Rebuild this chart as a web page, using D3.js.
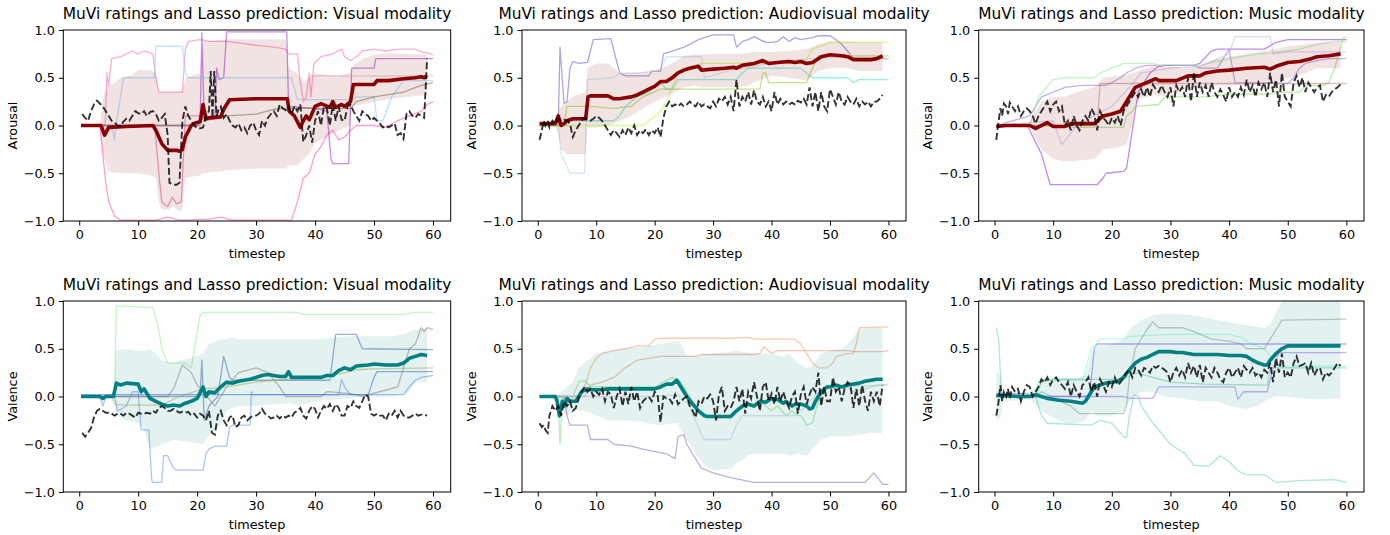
<!DOCTYPE html>
<html>
<head>
<meta charset="utf-8">
<script src="https://cdn.jsdelivr.net/npm/d3@7"></script>
<style>
  html, body { margin: 0; padding: 0; background: #ffffff; }
  svg { display: block; font-family: "DejaVu Sans", sans-serif; }
</style>
</head>
<body>
<svg id="chart" width="1390" height="535"></svg>
<script>
// ---------------- DATA ----------------
const modalities = ["Visual", "Audiovisual", "Music"];
const dimensions = ["Arousal", "Valence"];
const xTicks = [0, 10, 20, 30, 40, 50, 60];
const yTicks = [-1.0, -0.5, 0.0, 0.5, 1.0];
const yTickLabels = ["\u22121.0", "\u22120.5", "0.0", "0.5", "1.0"];
const titlePrefix = "MuVi ratings and Lasso prediction: ";
const xLabel = "timestep";

// ===== Visual / Arousal =====
const visArMean = [[0.3,0.0],[3.7,0.0],[4.3,-0.1],[5,-0.02],[8,-0.01],[12.5,0.0],[13,-0.05],[14,-0.19],[15,-0.26],[16.5,-0.26],[17,-0.27],[17.5,-0.25],[18,-0.12],[19,0.0],[19.8,0.03],[20.5,0.04],[21,0.22],[21.5,0.07],[22,0.08],[24,0.09],[24.5,0.17],[25.5,0.27],[30,0.28],[35.3,0.28],[35.6,0.15],[36.5,0.1],[37.5,-0.02],[38,0.05],[38.5,0.1],[39,0.06],[39.3,0.1],[40,0.2],[41,0.23],[42.5,0.19],[43,0.25],[43.5,0.19],[44.5,0.22],[45,0.2],[46,0.25],[46.5,0.43],[50,0.43],[50.5,0.47],[52.5,0.47],[55,0.49],[57,0.5],[58,0.51],[58.5,0.5],[59,0.52]];
const visArBand = [[0.3,0,0],[3.5,0,0],[4,-0.3,0.3],[5,-0.48,0.42],[6,-0.5,0.45],[7,-0.5,0.5],[9,-0.5,0.53],[10,-0.5,0.58],[12,-0.52,0.58],[13,-0.55,0.55],[13.5,-0.8,0.35],[14,-0.88,0.35],[15,-0.88,0.35],[16,-0.85,0.35],[17,-0.9,0.35],[17.5,-0.88,0.36],[18,-0.55,0.5],[20.5,-0.52,0.55],[21,-0.5,0.88],[25,-0.47,0.9],[30,-0.45,0.9],[35,-0.45,0.9],[35.5,-0.42,0.6],[37,-0.42,0.55],[38,-0.35,0.45],[39,-0.3,0.5],[40,-0.18,0.55],[42,-0.12,0.53],[44,-0.05,0.52],[46,0.0,0.55],[46.5,0.2,0.63],[48,0.22,0.7],[50,0.25,0.74],[53,0.28,0.76],[56,0.3,0.75],[59,0.32,0.74]];
const visArPred = [[0.5,0.12],[1,0.08],[1.5,0.05],[2,0.15],[2.5,0.22],[3,0.26],[3.5,0.23],[4,0.2],[4.5,0.15],[5,0.1],[5.5,0.05],[6,0.03],[6.5,0.0],[7,-0.01],[7.5,0.04],[8,0.07],[8.5,0.05],[9,0.1],[9.5,0.15],[10,0.13],[10.5,0.12],[11,0.15],[11.5,0.1],[12,0.14],[12.5,0.15],[13,0.12],[13.5,0.05],[14,0.08],[14.5,0.12],[15,-0.1],[15.3,-0.6],[16,-0.62],[16.5,-0.62],[17,-0.6],[17.5,0.05],[18,0.2],[18.5,0.1],[19,0.05],[19.5,0.0],[20,-0.03],[20.5,-0.03],[21,-0.02],[21.5,0.1],[22,0.15],[22.3,0.57],[22.6,0.08],[22.9,0.57],[23.3,0.1],[23.7,0.18],[24,0.2],[24.5,0.08],[25,0.12],[25.5,0.05],[26,0.0],[26.5,-0.02],[27,0.02],[27.5,-0.05],[28,-0.02],[28.5,-0.08],[29,0.0],[29.5,0.03],[30,-0.05],[30.5,-0.1],[31,0.05],[31.5,0.0],[32,0.08],[32.5,0.12],[33,0.15],[33.5,0.1],[34,0.22],[34.5,0.18],[35,0.16],[35.5,0.2],[36,0.12],[36.5,0.2],[37,0.15],[37.5,0.22],[38,-0.17],[38.5,-0.1],[39,0.0],[39.5,-0.18],[40,0.05],[40.5,0.15],[41,0.0],[41.5,0.2],[42,0.18],[42.5,0.0],[43,0.22],[43.5,0.05],[44,0.2],[44.5,0.06],[45,0.05],[45.5,0.2],[46,0.22],[46.5,0.15],[47,0.1],[47.5,0.05],[48,0.15],[48.5,0.12],[49,0.1],[49.5,0.05],[50,0.08],[50.5,0.05],[51,0.02],[51.5,-0.02],[52,0.0],[52.5,-0.02],[53,0.0],[53.5,0.02],[54,-0.1],[54.5,-0.08],[55,-0.14],[55.5,0.12],[56,0.15],[56.5,0.1],[57,0.08],[57.5,0.12],[58,0.1],[58.5,0.08],[59,0.7]];
const visArRaters = [
  [[4.4,0.0],[4.7,0.55],[5,0.42],[5.5,0.7],[7,0.72],[9,0.78],[10,0.75],[11,0.78],[12.5,0.75],[13,0.5],[13.5,0.35],[17.5,0.35],[18,0.8],[18.5,0.88],[20.5,0.9],[22,0.88],[25,0.88],[30,0.84],[33,0.82],[35,0.8],[35.5,0.75],[37,0.75],[37.5,0.45],[38,0.25],[38.5,0.3],[39,0.55],[39.3,0.3],[39.8,0.65],[41,0.72],[43,0.75],[44.5,0.8],[45,0.72],[46,0.68],[47,0.72],[48,0.78],[50,0.8],[52,0.78],[54,0.8],[57,0.8],[58,0.77],[59,0.76],[60,0.74]],
  [[0.3,0.0],[3.5,0.0],[4,-0.3],[4.5,-0.6],[5,-0.8],[6,-0.95],[7,-0.99],[13,-0.99],[15,-0.96],[17,-0.99],[22,-0.98],[24,-0.96],[26,-0.99],[36,-0.99],[37,-0.8],[38,-0.55],[39,-0.5],[40,-0.3],[41,-0.22],[42,-0.1],[43,-0.05],[44,-0.15],[45,-0.12],[46,-0.05],[47,0.0],[50,0.0],[52,-0.02],[54,0.05],[56,0.1],[58,0.15],[59,0.22],[60,0.25]],
  [[0.3,0.0],[12.8,0.0],[13.5,-0.5],[14,-0.8],[15,-0.85],[15.8,-0.75],[16.5,-0.82],[17.3,-0.8],[17.7,-0.3],[18,0.1],[20.5,0.1],[21,0.1]],
  [[0.3,0.0],[20.5,0.0],[20.8,0.97],[21.2,0.05],[23,0.07],[23.3,0.6],[23.7,0.48],[24.5,0.5],[25,0.98],[35.2,0.98],[35.5,0.2],[40,0.18],[42,0.15],[42.7,-0.35],[43,-0.4],[45.7,-0.4],[46.2,0.6],[50,0.6],[50.3,0.7],[60,0.7]],
  [[0.3,0.0],[5.5,0.0],[6,-0.15],[6.5,0.1],[7.5,0.5],[12.7,0.5],[13,0.83],[17.5,0.83],[18,0.55],[18.5,0.5],[36,0.5],[37,0.27],[46.5,0.27],[47,0.3],[50,0.3],[50.5,0.05],[51.5,0.05],[53,0.3],[55,0.47],[60,0.47]],
  [[0.3,0.0],[20,0.0],[21,0.08],[25,0.1],[30,0.12],[33,0.17],[35,0.18],[46,0.18],[47,0.25],[50,0.3],[55,0.35],[58,0.42],[60,0.45]],
  [[39,0.52],[60,0.52]]
];
const visArColors = ["#ff69b4", "#ff4fa8", "#e0559b", "#9932cc", "#87cefa", "#6b7a4a", "#f4a6c8"];

// ===== Audiovisual / Arousal =====
const avArMean = [[0.3,0.02],[3,0.02],[3.5,0.1],[4,0.0],[4.5,0.02],[5,0.05],[6,0.07],[8.2,0.07],[8.6,0.3],[9,0.31],[12,0.31],[13,0.28],[14,0.28],[15,0.29],[16,0.3],[17,0.32],[18,0.35],[19,0.38],[20,0.41],[21,0.46],[22,0.46],[23,0.5],[24,0.55],[25,0.58],[26,0.6],[27.5,0.62],[28,0.58],[30,0.59],[32,0.6],[33.5,0.61],[34,0.6],[35,0.63],[36,0.64],[37,0.65],[38.5,0.68],[39.5,0.65],[41,0.66],[43,0.67],[44,0.66],[45,0.67],[46,0.65],[47,0.66],[48.5,0.72],[50,0.74],[52,0.73],[53,0.72],[54,0.69],[57,0.69],[58,0.7],[59,0.73]];
const avArBand = [[0.3,0,0],[3,0,0],[3.5,-0.1,0.15],[4,-0.25,0.2],[5,-0.3,0.25],[6,-0.3,0.3],[8.2,-0.3,0.35],[8.5,-0.02,0.6],[10,-0.02,0.65],[12,0.0,0.65],[13,0.02,0.6],[14,0.05,0.55],[16,0.1,0.55],[18,0.18,0.56],[20,0.25,0.57],[21,0.28,0.6],[23,0.33,0.65],[25,0.4,0.73],[27,0.42,0.75],[28,0.4,0.74],[30,0.4,0.75],[34,0.4,0.75],[36,0.42,0.76],[37,0.45,0.77],[40,0.52,0.77],[43,0.5,0.78],[46,0.47,0.8],[48,0.57,0.85],[50,0.6,0.88],[53,0.6,0.88],[55,0.57,0.87],[59,0.57,0.87]];
const avArPred = [[0.3,-0.15],[0.7,-0.05],[1,0.05],[1.3,0.0],[1.7,0.05],[2,-0.02],[2.5,0.05],[3,0.02],[3.5,0.07],[4,0.05],[4.5,0.06],[5,0.05],[5.5,0.02],[6,-0.12],[6.5,-0.05],[7,0.0],[7.5,0.05],[8,0.08],[8.5,0.06],[9,0.05],[9.5,0.07],[10,0.1],[10.5,0.08],[11,0.05],[11.5,0.0],[12,-0.05],[12.5,-0.1],[13,-0.05],[13.5,-0.08],[14,-0.12],[14.5,-0.05],[15,-0.1],[15.5,-0.02],[16,-0.08],[16.5,0.0],[17,-0.1],[17.5,-0.05],[18,-0.08],[18.5,-0.04],[19,-0.1],[19.5,-0.05],[20,-0.08],[20.5,-0.02],[21,-0.12],[21.5,0.08],[22,0.2],[22.5,0.25],[23,0.2],[23.5,0.22],[24,0.2],[24.5,0.23],[25,0.2],[25.5,0.22],[26,0.25],[26.5,0.22],[27,0.2],[27.5,0.25],[28,0.2],[28.5,0.22],[29,0.2],[29.5,0.18],[30,0.25],[30.5,0.2],[31,0.28],[31.5,0.25],[32,0.3],[32.5,0.22],[33,0.3],[33.5,0.15],[34,0.48],[34.5,0.2],[35,0.3],[35.5,0.25],[36,0.35],[36.5,0.22],[37,0.37],[37.5,0.25],[38,0.22],[38.5,0.3],[39,0.2],[39.5,0.25],[40,0.15],[40.5,0.35],[41,0.22],[41.5,0.28],[42,0.22],[42.5,0.25],[43,0.22],[43.5,0.24],[44,0.22],[44.5,0.26],[45,0.24],[45.5,0.28],[46,0.22],[46.5,0.4],[47,0.2],[47.5,0.35],[48,0.15],[48.5,0.35],[49,0.2],[49.5,0.15],[50,0.38],[50.5,0.3],[51,0.22],[51.5,0.35],[52,0.25],[52.5,0.22],[53,0.3],[53.5,0.25],[54,0.22],[54.5,0.28],[55,0.2],[55.5,0.25],[56,0.22],[56.5,0.25],[57,0.2],[57.5,0.25],[58,0.25],[58.5,0.28],[59,0.32]];
const avArRaters = [
  [[0.3,0.0],[3.5,0.0],[3.8,0.82],[4.5,0.23],[5,0.25],[5.5,0.6],[6,0.67],[7,0.65],[8.5,0.66],[9.5,0.9],[12.5,0.91],[14,0.55],[15,0.52],[19,0.52],[19.5,0.57],[21,0.57],[21.5,0.75],[23,0.78],[25,0.82],[26,0.85],[27.5,0.9],[29,0.93],[30,0.95],[33.5,0.95],[34,0.82],[35,0.88],[36,0.9],[37,0.93],[38,0.9],[39,0.87],[40,0.87],[41,0.88],[42,0.93],[43,0.88],[44,0.92],[45,0.9],[47,0.92],[48,0.94],[50,0.94],[51,0.9],[52,0.85],[53,0.78],[54,0.7],[60,0.7]],
  [[0.3,0.0],[3.5,0.0],[4,-0.3],[5.5,-0.5],[8,-0.5],[8.5,0.48],[13,0.5],[14,0.55],[17,0.55],[20,0.57],[21,0.58],[22,0.72],[28,0.72],[28.5,0.5],[33,0.58],[37,0.62],[42,0.68],[47,0.7],[53,0.72],[60,0.7]],
  [[0.3,0.0],[5,0.0],[5.5,0.05],[13,0.05],[14,0.1],[15,0.2],[16,0.25],[17,0.3],[19,0.35],[20,0.4],[21,0.45],[22,0.38],[23,0.38],[24,0.48],[34,0.48],[35,0.55],[36,0.6],[45,0.6],[46,0.55],[47,0.5],[53,0.5],[54,0.45],[55,0.48],[60,0.48]],
  [[0.3,0.0],[4.5,0.0],[5,0.2],[9,0.2],[13,0.18],[16,0.2],[18,0.3],[21,0.38],[38,0.38],[38.5,0.55],[39,0.55],[39.5,0.45],[46,0.45],[47,0.6],[48,0.73],[60,0.73]],
  [[0.3,0.0],[18,0.0],[19,0.05],[21,0.15],[22,0.25],[23,0.4],[24,0.55],[25,0.6],[27,0.63],[28,0.65],[45,0.65],[46,0.7],[47,0.8],[50,0.87],[60,0.87]]
];
const avArColors = ["#6a5acd", "#b0d8e8", "#40e0d0", "#9acd32", "#adff2f"];

// ===== Music / Arousal =====
const muArMean = [[0.3,-0.01],[2,0.0],[6,0.0],[7,-0.03],[9,0.03],[10,-0.01],[12,-0.01],[13,0.02],[17,0.02],[18.5,0.1],[20,0.12],[21.5,0.15],[22.5,0.25],[24,0.4],[26,0.45],[27.5,0.49],[28,0.47],[31,0.47],[33,0.52],[35,0.52],[36,0.55],[38,0.57],[40,0.58],[43,0.6],[46,0.61],[47,0.59],[48,0.62],[50,0.66],[52,0.67],[54,0.7],[55,0.72],[57,0.73],[59,0.75]];
const muArBand = [[0.3,0,0],[5.5,0,0],[6,-0.02,0.05],[8,-0.25,0.25],[10,-0.35,0.3],[12,-0.38,0.3],[14,-0.37,0.35],[17,-0.35,0.4],[18.5,-0.25,0.5],[21,-0.23,0.52],[22.5,-0.2,0.53],[23.5,0.0,0.55],[24,0.2,0.56],[25,0.28,0.58],[27,0.32,0.62],[30,0.3,0.63],[32,0.38,0.6],[35,0.4,0.62],[37,0.42,0.68],[40,0.42,0.72],[43,0.42,0.75],[46,0.43,0.78],[48,0.45,0.8],[50,0.5,0.83],[53,0.55,0.85],[55,0.6,0.87],[59,0.6,0.88]];
const muArPred = [[0.3,-0.15],[0.6,0.0],[1,0.18],[1.3,0.1],[1.6,0.23],[2,0.2],[2.3,0.12],[2.6,0.24],[3,0.2],[3.5,0.15],[4,0.2],[4.5,0.1],[5,0.15],[5.5,0.18],[6,0.15],[6.5,0.1],[7,0.02],[7.5,0.1],[8,0.15],[8.5,0.2],[9,0.25],[9.5,0.15],[10,0.22],[10.5,0.25],[11,0.15],[11.5,0.2],[12,0.0],[12.5,0.05],[13,-0.05],[13.5,0.1],[14,0.0],[14.5,-0.05],[15,0.05],[15.5,0.1],[16,0.05],[16.5,0.18],[17,0.12],[17.5,-0.05],[18,0.15],[18.5,0.08],[19,0.05],[19.5,0.0],[20,0.08],[20.5,0.03],[21,0.1],[21.5,0.0],[22,0.15],[22.5,0.2],[23,0.25],[23.5,0.3],[24,0.35],[24.5,0.3],[25,0.38],[25.5,0.3],[26,0.4],[26.5,0.3],[27,0.43],[27.5,0.38],[28,0.35],[28.5,0.42],[29,0.35],[29.5,0.3],[30,0.4],[30.5,0.2],[31,0.42],[31.5,0.35],[32,0.4],[32.5,0.3],[33,0.5],[33.5,0.25],[34,0.55],[34.5,0.3],[35,0.45],[35.5,0.35],[36,0.42],[36.5,0.3],[37,0.45],[37.5,0.35],[38,0.3],[38.5,0.38],[39,0.32],[39.5,0.25],[40,0.4],[40.5,0.3],[41,0.35],[41.5,0.3],[42,0.4],[42.5,0.32],[43,0.48],[43.5,0.35],[44,0.42],[44.5,0.3],[45,0.45],[45.5,0.38],[46,0.45],[46.5,0.3],[47,0.55],[47.5,0.35],[48,0.48],[48.5,0.2],[49,0.55],[49.5,0.3],[50,0.25],[50.5,0.2],[51,0.45],[51.5,0.52],[52,0.4],[52.5,0.5],[53,0.35],[53.5,0.45],[54,0.4],[54.5,0.35],[55,0.4],[55.5,0.42],[56,0.25],[56.5,0.32],[57,0.3],[57.5,0.35],[58,0.38],[58.5,0.4],[59,0.43]];
const muArRaters = [
  [[0.3,0.0],[5.5,0.0],[6,-0.05],[8,-0.3],[9.5,-0.62],[17.5,-0.62],[18.5,-0.55],[19,-0.5],[22,-0.48],[22.5,-0.45],[24.5,0.35],[25.5,0.45],[26.5,0.55],[28,0.62],[29,0.63],[34,0.63],[35,0.65],[37,0.78],[38,0.8],[46,0.8],[48,0.87],[50,0.9],[60,0.9]],
  [[0.3,0.0],[6,0.1],[8,0.3],[10,0.35],[12,0.4],[15,0.42],[19,0.42],[20,0.45],[21.5,0.5],[22.5,0.55],[24,0.6],[26,0.63],[34,0.63],[35,0.6],[38,0.6],[40,0.8],[41,0.45],[50,0.44],[51,0.5],[52,0.6],[53,0.65],[55,0.68],[57,0.7],[60,0.7]],
  [[0.3,0.0],[6,0.0],[7.5,0.3],[10,0.48],[12,0.5],[17,0.5],[18,0.55],[20,0.6],[22,0.65],[27,0.65],[28,0.63],[35,0.63],[40,0.7],[45,0.75],[50,0.78],[52,0.8],[55,0.85],[58,0.88],[60,0.88]],
  [[0.3,0.0],[10,0.0],[12,-0.02],[22,-0.02],[22.5,0.1],[23.5,0.15],[24,0.2],[28,0.22],[29,0.3],[36,0.3],[40,0.33],[47,0.33],[48,0.35],[52,0.35],[53,0.42],[56,0.42],[57,0.45],[58,0.6],[59.5,0.92],[60,0.92]],
  [[0.3,0.0],[10,0.05],[11.5,-0.2],[14,0.0],[20,0.2],[23,0.4],[25,0.55],[30,0.6],[35,0.62],[40,0.75],[41,0.93],[47,0.93],[47.5,0.75],[50,0.77],[60,0.77]],
  [[0.3,0.0],[17.5,0.0],[18,0.44],[60,0.44]]
];
const muArColors = ["#8a2be2", "#9370db", "#90ee90", "#7cdc5a", "#c8b4f0", "#c08a8a"];

// ===== Visual / Valence =====
const visVaMean = [[0.3,0.0],[3.5,0.0],[4,-0.02],[4.5,0.0],[5.8,0.0],[6.3,0.14],[7,0.12],[8,0.14],[10,0.13],[10.5,0.05],[11,0.08],[12,-0.02],[13,-0.05],[14,-0.08],[15,-0.1],[16,-0.09],[17,-0.1],[18,-0.07],[19,-0.05],[20,-0.02],[21,0.1],[21.5,0.0],[22,0.05],[23,0.04],[24,0.1],[25,0.15],[26,0.14],[27,0.16],[29,0.18],[30,0.2],[31,0.22],[32,0.23],[34,0.21],[35,0.21],[35.5,0.26],[36,0.2],[41,0.2],[42,0.22],[43,0.22],[44,0.27],[45,0.3],[46,0.28],[47,0.32],[49,0.33],[50,0.34],[52,0.33],[54,0.33],[55,0.35],[56,0.4],[57,0.42],[58,0.44],[59,0.43]];
const visVaBand = [[0.3,0,0],[5.8,0,0],[6.3,-0.2,0.48],[8,-0.25,0.5],[10,-0.28,0.48],[11,-0.35,0.48],[12,-0.55,0.5],[13,-0.53,0.45],[14,-0.5,0.38],[16,-0.45,0.35],[17,-0.46,0.38],[19,-0.48,0.4],[21,-0.5,0.45],[22,-0.4,0.55],[24,-0.3,0.6],[25,-0.15,0.6],[26,-0.12,0.62],[27,-0.1,0.6],[30,-0.1,0.6],[33,-0.08,0.6],[36,-0.07,0.6],[37,-0.1,0.6],[40,-0.05,0.6],[44,-0.03,0.62],[46,-0.02,0.63],[48,0.0,0.63],[53,0.0,0.63],[55,0.02,0.65],[56,0.05,0.68],[57,0.15,0.7],[59,0.15,0.72]];
const visVaPred = [[0.5,-0.38],[1,-0.42],[1.5,-0.38],[2,-0.33],[2.5,-0.22],[3,-0.15],[3.5,-0.13],[4,-0.15],[4.5,-0.17],[5,-0.17],[5.5,-0.18],[6,-0.2],[6.5,-0.18],[7,-0.18],[7.5,-0.2],[8,-0.17],[8.5,-0.18],[9,-0.2],[9.5,-0.22],[10,-0.17],[10.5,-0.18],[11,-0.18],[11.5,-0.17],[12,-0.18],[12.5,-0.15],[13,-0.17],[13.5,-0.12],[14,-0.1],[14.5,-0.12],[15,-0.15],[15.5,-0.15],[16,-0.13],[16.5,-0.15],[17,-0.17],[17.5,-0.16],[18,-0.17],[18.5,-0.16],[19,-0.2],[19.5,-0.18],[20,-0.22],[20.5,-0.18],[21,-0.2],[21.5,-0.25],[22,-0.15],[22.5,-0.38],[23,-0.4],[23.5,-0.2],[24,-0.15],[24.5,-0.25],[25,-0.3],[25.5,-0.22],[26,-0.2],[26.5,-0.32],[27,-0.3],[27.5,-0.22],[28,-0.2],[28.5,-0.25],[29,-0.22],[29.5,-0.2],[30,-0.2],[30.5,-0.18],[31,-0.13],[31.5,-0.18],[32,-0.2],[32.5,-0.23],[33,-0.22],[33.5,-0.2],[34,-0.23],[34.5,-0.2],[35,-0.22],[35.5,-0.2],[36,-0.22],[36.5,-0.17],[37,-0.15],[37.5,-0.12],[38,-0.2],[38.5,-0.23],[39,-0.15],[39.5,-0.1],[40,-0.13],[40.5,-0.22],[41,-0.15],[41.5,-0.1],[42,-0.13],[42.5,-0.08],[43,-0.15],[43.5,-0.08],[44,-0.12],[44.5,-0.2],[45,-0.2],[45.5,-0.1],[46,-0.12],[46.5,-0.05],[47,-0.1],[47.5,-0.12],[48,-0.05],[48.5,0.02],[49,0.0],[49.5,-0.18],[50,-0.2],[50.5,-0.18],[51,-0.2],[51.5,-0.2],[52,-0.25],[52.5,-0.18],[53,-0.2],[53.5,-0.15],[54,-0.22],[54.5,-0.15],[55,-0.2],[55.5,-0.22],[56,-0.22],[56.5,-0.2],[57,-0.18],[57.5,-0.2],[58,-0.19],[58.5,-0.19],[59,-0.2]];
const visVaRaters = [
  [[0.3,0.0],[6,0.0],[6.3,0.95],[12.5,0.93],[13.5,0.7],[14,0.5],[15,0.35],[18,0.35],[19,0.3],[20.5,0.85],[21,0.88],[37,0.88],[38,0.86],[55,0.86],[57,0.88],[60,0.88]],
  [[0.3,0.0],[3.5,0.0],[4,-0.1],[4.5,0.0],[6,0.0],[6.5,-0.15],[8,-0.1],[9,0.05],[10,0.05],[10.5,-0.35],[11.8,-0.35],[12.3,-0.88],[12.5,-0.9],[14,-0.9],[14.3,-0.62],[15,-0.62],[16,-0.75],[16.5,-0.77],[21,-0.77],[21.5,-0.6],[22,-0.55],[23,-0.52],[25,-0.52],[25.5,-0.32],[26,-0.3],[29,-0.3],[29.2,0.05],[29.5,0.02],[44,0.02],[44.5,0.18],[45,0.1],[46,0.02],[55,0.02],[56,0.1],[57,0.17],[58,0.2],[60,0.22]],
  [[0.3,0.0],[20.5,0.0],[20.8,0.38],[21.2,-0.25],[22,-0.1],[23.5,0.0],[24.5,0.42],[25.5,0.2],[26,0.17],[42.5,0.17],[43,0.4],[43.5,0.65],[47,0.65],[48,0.5],[60,0.49]],
  [[0.3,0.0],[13,0.0],[15,0.0],[16,0.08],[17.5,0.33],[19,0.25],[20,0.12],[21,0.05],[23,-0.1],[25,0.1],[27,0.25],[30,0.3],[32,0.25],[34,0.1],[35,0.0],[41,0.0],[42,0.05],[46,0.03],[48,0.0],[54,0.1],[55,0.3],[56,0.5],[57,0.55],[58,0.72],[58.5,0.68],[59,0.72],[60,0.7]],
  [[0.3,0.0],[5.5,0.0],[6,-0.08],[7,-0.09],[14,-0.09],[17,0.0],[21,0.08],[25,0.1],[30,0.15],[35,0.18],[40,0.2],[43,0.22],[45,0.25],[47,0.28],[50,0.29],[60,0.3]],
  [[0.3,0.02],[49,0.02],[50,0.2],[50.5,0.26],[60,0.26]]
];
const visVaColors = ["#90ee90", "#6495ed", "#4a6fa5", "#a08080", "#b5b35c", "#4169e1"];

// ===== Audiovisual / Valence =====
const avVaMean = [[0.3,0.0],[3,0.0],[3.3,-0.05],[3.7,-0.2],[4.2,-0.05],[4.5,-0.1],[5,-0.02],[5.5,-0.05],[6.5,-0.05],[7.5,0.05],[8.5,0.08],[9,0.07],[11,0.07],[12,0.08],[20,0.08],[21,0.1],[22,0.13],[23,0.13],[23.8,0.17],[24.5,0.1],[25.5,0.0],[26.5,-0.08],[27.5,-0.15],[28.5,-0.2],[29,-0.21],[33,-0.21],[34,-0.15],[35,-0.1],[36,-0.08],[37,-0.1],[38,-0.05],[39,-0.06],[40,-0.02],[41,-0.03],[42,-0.07],[42.5,-0.05],[43.5,-0.1],[44,-0.08],[45,-0.08],[46,-0.1],[46.5,-0.13],[47,-0.12],[47.5,-0.05],[48.5,0.05],[49.5,0.1],[50,0.1],[51,0.12],[52,0.1],[53,0.12],[55,0.14],[56,0.16],[57,0.17],[58,0.18],[59,0.18]];
const avVaBand = [[0.3,0,0],[3,0,0],[3.5,-0.05,0.02],[4,-0.15,0.05],[5,-0.2,0.1],[6,-0.15,0.15],[7,-0.15,0.3],[8,-0.15,0.35],[10,-0.2,0.45],[12,-0.25,0.48],[15,-0.25,0.5],[18,-0.27,0.52],[21,-0.3,0.55],[23,-0.28,0.57],[24,-0.28,0.58],[24.5,-0.35,0.55],[25.5,-0.45,0.43],[27,-0.6,0.42],[28.5,-0.72,0.44],[30,-0.77,0.45],[33,-0.76,0.47],[34,-0.7,0.48],[36,-0.62,0.46],[37,-0.6,0.45],[40,-0.6,0.45],[42,-0.6,0.42],[43,-0.62,0.45],[44.5,-0.6,0.35],[46,-0.62,0.3],[47,-0.55,0.32],[48.5,-0.45,0.45],[50,-0.42,0.48],[52,-0.42,0.5],[53,-0.42,0.55],[55,-0.4,0.7],[57,-0.38,0.72],[59,-0.38,0.72]];
const avVaPred = [[0.3,-0.28],[0.7,-0.32],[1,-0.3],[1.3,-0.35],[1.7,-0.38],[2,-0.2],[2.5,-0.1],[3,-0.15],[3.5,-0.1],[4,-0.2],[4.5,-0.05],[5,-0.1],[5.5,-0.05],[6,-0.15],[6.5,-0.12],[7,-0.02],[7.5,0.05],[8,0.1],[8.5,0.05],[9,0.08],[9.5,0.0],[10,0.05],[10.5,0.02],[11,0.08],[11.5,-0.05],[12,0.05],[12.5,0.02],[13,-0.12],[13.5,0.0],[14,0.08],[14.5,-0.1],[15,0.05],[15.5,-0.08],[16,0.1],[16.5,-0.05],[17,0.05],[17.5,-0.12],[18,-0.05],[18.5,-0.02],[19,0.0],[19.5,-0.05],[20,0.05],[20.5,0.02],[21,-0.27],[21.5,0.0],[22,-0.02],[22.5,-0.02],[23,-0.07],[23.5,0.02],[24,-0.08],[24.5,-0.05],[25,-0.02],[25.5,0.0],[26,-0.1],[26.5,-0.15],[27,-0.22],[27.5,-0.05],[28,-0.08],[28.5,0.0],[29,-0.02],[29.5,0.02],[30,-0.05],[30.5,-0.25],[31,0.02],[31.5,0.1],[32,-0.15],[32.5,-0.1],[33,-0.12],[33.5,-0.05],[34,0.1],[34.5,-0.05],[35,0.08],[35.5,-0.18],[36,0.05],[36.5,-0.02],[37,0.15],[37.5,0.0],[38,-0.15],[38.5,0.1],[39,0.15],[39.5,-0.05],[40,0.03],[40.5,-0.08],[41,0.1],[41.5,-0.05],[42,0.05],[42.5,-0.05],[43,-0.12],[43.5,0.0],[44,0.05],[44.5,-0.18],[45,0.02],[45.5,0.1],[46,-0.08],[46.5,0.02],[47,0.1],[47.5,0.05],[48,0.25],[48.5,-0.1],[49,0.1],[49.5,-0.05],[50,-0.05],[50.5,0.2],[51,0.05],[51.5,0.1],[52,-0.05],[52.5,0.08],[53,0.15],[53.5,0.12],[54,-0.12],[54.5,0.08],[55,-0.1],[55.5,0.12],[56,-0.05],[56.5,-0.15],[57,0.05],[57.5,-0.05],[58,0.05],[58.5,-0.1],[59,0.12]];
const avVaRaters = [
  [[0.3,0.0],[5,0.0],[7,0.0],[8,0.1],[9,0.3],[10,0.4],[11,0.45],[13,0.48],[15,0.5],[17,0.53],[19,0.53],[20,0.6],[21,0.61],[33,0.61],[36,0.62],[37,0.6],[44,0.6],[45,0.55],[46,0.45],[47,0.35],[48,0.3],[49.5,0.3],[50.5,0.35],[51,0.42],[53,0.45],[54,0.45],[54.5,0.55],[55,0.72],[60,0.73]],
  [[0.3,0.0],[8,0.0],[9,0.12],[11,0.15],[13,0.2],[15,0.3],[17,0.38],[19,0.4],[21,0.42],[27,0.42],[28,0.44],[37,0.44],[38,0.45],[38.7,0.52],[40,0.45],[41,0.48],[53,0.48],[54,0.47],[59,0.47],[60,0.48]],
  [[0.3,0.0],[4.5,0.0],[5,-0.2],[5.5,-0.3],[8.5,-0.3],[9,-0.45],[12,-0.45],[13,-0.5],[16,-0.52],[18,-0.55],[22,-0.6],[23.5,-0.65],[24,-0.42],[25,-0.4],[25.5,-0.5],[28,-0.75],[30,-0.8],[33,-0.85],[37,-0.9],[56,-0.9],[57.5,-0.8],[59,-0.92],[60,-0.92]],
  [[0.3,0.0],[3.5,0.0],[3.8,-0.5],[4.2,0.0],[5,-0.1],[6,0.0],[7,0.15],[8,0.17],[9,0.1],[20,0.1],[23,0.2],[24.5,0.15],[26,0.0],[27.5,-0.15],[28.5,-0.22],[33,-0.22],[34,-0.15],[36,-0.1],[38,-0.05],[40,-0.15],[41,-0.1],[42.5,-0.2],[43.5,-0.15],[44.5,-0.2],[45,-0.2],[46,-0.3],[47,-0.28],[48,-0.05],[49.5,0.12],[51,0.1],[53,0.1],[54,0.05],[56,0.08],[58,0.12],[60,0.13]],
  [[0.3,0.0],[20,0.0],[24,0.02],[26,-0.1],[28,-0.4],[28.5,-0.45],[33,-0.45],[34,-0.3],[35,-0.2],[44,-0.2],[46,-0.1],[48,0.05],[50,0.1],[60,0.12]]
];
const avVaColors = ["#f4a070", "#e9967a", "#8470b8", "#7fe07f", "#c8c8e8"];

// ===== Music / Valence =====
const muVaMean = [[0.3,0.01],[2,0.01],[4,0.0],[6,0.0],[7,0.02],[8,0.0],[9,-0.02],[11,-0.04],[13,-0.05],[15,-0.07],[15.5,-0.05],[16,0.0],[17,0.1],[18,0.12],[19,0.14],[20,0.15],[21,0.16],[22,0.2],[23,0.28],[24,0.35],[25,0.39],[26,0.41],[27,0.44],[28,0.47],[30,0.47],[31,0.46],[32,0.46],[33,0.45],[34,0.44],[38,0.44],[40,0.43],[42,0.43],[43,0.42],[44,0.38],[45,0.35],[46,0.33],[46.5,0.33],[47,0.38],[48,0.45],[49,0.5],[50,0.53],[57,0.53],[59,0.53]];
const muVaBand = [[0.3,-0.25,0.27],[1,-0.22,0.22],[1.5,-0.05,0.05],[6,-0.03,0.05],[7,-0.08,0.1],[8,-0.15,0.18],[10,-0.22,0.2],[12,-0.28,0.2],[14,-0.28,0.2],[15.5,-0.25,0.22],[16.5,-0.15,0.45],[17.5,-0.2,0.52],[20,-0.2,0.55],[22,-0.15,0.6],[23,-0.05,0.7],[24,0.0,0.75],[25,0.05,0.8],[27,0.05,0.85],[29,0.0,0.87],[32,-0.02,0.86],[35,-0.05,0.84],[38,-0.05,0.8],[40,-0.1,0.78],[43,-0.13,0.75],[45,-0.1,0.73],[46,-0.05,0.72],[47,-0.02,0.76],[48,0.0,0.88],[49.5,0.0,1.05],[52,-0.02,1.05],[55,-0.03,1.05],[59,-0.02,1.05]];
const muVaPred = [[0.3,-0.2],[0.6,-0.1],[1,0.12],[1.3,-0.05],[1.6,0.05],[2,0.0],[2.3,0.08],[2.6,-0.02],[3,0.1],[3.5,0.05],[4,0.08],[4.5,-0.05],[5,0.05],[5.5,0.12],[6,0.1],[6.5,0.0],[7,0.05],[7.5,0.1],[8,0.18],[8.5,0.15],[9,0.2],[9.5,0.12],[10,0.18],[10.5,0.2],[11,0.15],[11.5,0.12],[12,0.08],[12.5,0.15],[13,0.0],[13.5,0.12],[14,0.05],[14.5,0.0],[15,0.12],[15.5,0.15],[16,0.2],[16.5,0.05],[17,0.15],[17.5,0.0],[18,0.18],[18.5,0.12],[19,0.05],[19.5,0.15],[20,0.1],[20.5,0.2],[21,0.12],[21.5,0.15],[22,0.2],[22.5,0.25],[23,0.28],[23.5,0.2],[24,0.3],[24.5,0.28],[25,0.22],[25.5,0.3],[26,0.28],[26.5,0.25],[27,0.32],[27.5,0.3],[28,0.32],[28.5,0.3],[29,0.28],[29.5,0.25],[30,0.15],[30.5,0.25],[31,0.3],[31.5,0.22],[32,0.28],[32.5,0.2],[33,0.35],[33.5,0.25],[34,0.32],[34.5,0.2],[35,0.33],[35.5,0.15],[36,0.3],[36.5,0.25],[37,0.2],[37.5,0.3],[38,0.25],[38.5,0.18],[39,0.15],[39.5,0.25],[40,0.3],[40.5,0.2],[41,0.25],[41.5,0.3],[42,0.2],[42.5,0.32],[43,0.28],[43.5,0.25],[44,0.3],[44.5,0.22],[45,0.25],[45.5,0.2],[46,0.28],[46.5,0.25],[47,0.35],[47.5,0.15],[48,0.4],[48.5,0.25],[49,0.45],[49.5,0.2],[50,0.25],[50.5,0.2],[51,0.35],[51.5,0.42],[52,0.32],[52.5,0.33],[53,0.35],[53.5,0.25],[54,0.35],[54.5,0.22],[55,0.28],[55.5,0.3],[56,0.18],[56.5,0.25],[57,0.22],[57.5,0.25],[58,0.3],[58.5,0.35],[59,0.32]];
const muVaRaters = [
  [[0.3,0.72],[0.7,0.6],[1.2,0.0],[7,0.0],[8,-0.2],[9,-0.28],[16.5,-0.3],[18,-0.25],[20,-0.28],[22,-0.42],[22.5,-0.43],[23,-0.2],[23.8,0.02],[24.5,0.0],[25,-0.1],[27,-0.28],[28,-0.35],[30,-0.5],[32.5,-0.6],[34,-0.72],[36.5,-0.73],[38.5,-0.62],[40,-0.68],[41.5,-0.78],[43,-0.82],[46,-0.82],[48,-0.9],[52,-0.88],[58,-0.87],[60,-0.9]],
  [[0.3,0.0],[7,0.0],[7.5,0.17],[15,0.17],[16.5,0.5],[18,0.6],[22,0.6],[23,0.63],[30,0.65],[40,0.65],[42,0.62],[43,0.58],[44,0.55],[46,0.5],[48,0.35],[50,0.3],[52,0.32],[60,0.32]],
  [[0.3,0.0],[7,0.0],[8,0.15],[10,0.18],[22,0.18],[24,0.25],[27,0.2],[30,0.15],[36,0.13],[46.5,0.12],[47,0.3],[60,0.3]],
  [[0.3,0.0],[7,0.0],[8,0.05],[13,-0.1],[14.5,-0.18],[22,-0.18],[22.5,-0.1],[23,0.2],[24,0.5],[26,0.7],[27,0.78],[28,0.72],[32,0.72],[34,0.68],[37,0.6],[40,0.58],[42,0.55],[43,0.5],[46,0.5],[47,0.6],[49,0.8],[60,0.81]],
  [[0.3,0.0],[16.2,0.0],[17,0.5],[17.5,0.55],[60,0.55]],
  [[0.3,0.03],[5,0.03],[7,0.0],[22,0.0],[23,-0.02],[27,-0.02],[28,0.1],[41,0.1],[41.5,-0.03],[42.5,0.05],[46.5,0.05],[47.5,0.3],[48.5,0.46],[60,0.46]]
];
const muVaColors = ["#66d9b0", "#7fffd4", "#66cdaa", "#8fa88a", "#7b68ee", "#a070f0"];

// ---------------- LAYOUT / STYLE ----------------
const colLeft = [63.3, 522, 978.7];
const colRight = [450.7, 906, 1364];
const rowTop = [30, 301];
const rowBottom = [221, 492];
const meanColors = { Arousal: "#8b0000", Valence: "#008080" };

const panels = [
  { row: 0, col: 0, dim: "Arousal", mod: modalities[0], mean: visArMean, band: visArBand, pred: visArPred, raters: visArRaters, colors: visArColors },
  { row: 0, col: 1, dim: "Arousal", mod: modalities[1], mean: avArMean, band: avArBand, pred: avArPred, raters: avArRaters, colors: avArColors },
  { row: 0, col: 2, dim: "Arousal", mod: modalities[2], mean: muArMean, band: muArBand, pred: muArPred, raters: muArRaters, colors: muArColors },
  { row: 1, col: 0, dim: "Valence", mod: modalities[0], mean: visVaMean, band: visVaBand, pred: visVaPred, raters: visVaRaters, colors: visVaColors },
  { row: 1, col: 1, dim: "Valence", mod: modalities[1], mean: avVaMean, band: avVaBand, pred: avVaPred, raters: avVaRaters, colors: avVaColors },
  { row: 1, col: 2, dim: "Valence", mod: modalities[2], mean: muVaMean, band: muVaBand, pred: muVaPred, raters: muVaRaters, colors: muVaColors }
];

const svg = d3.select("#chart");
const defs = svg.append("defs");

panels.forEach((p, i) => {
  const L = colLeft[p.col], R = colRight[p.col];
  const T = rowTop[p.row], B = rowBottom[p.row];
  const x = d3.scaleLinear().domain([-2.7, 63]).range([L, R]);
  const y = d3.scaleLinear().domain([-1, 1]).range([B, T]);

  const clipId = "clip" + i;
  defs.append("clipPath").attr("id", clipId)
    .append("rect").attr("x", L).attr("y", T).attr("width", R - L).attr("height", B - T);

  const g = svg.append("g");
  const plot = g.append("g").attr("clip-path", `url(#${clipId})`);

  const line = d3.line().x(d => x(d[0])).y(d => y(d[1]));

  // individual ratings
  p.raters.forEach((r, k) => {
    plot.append("path").datum(r)
      .attr("d", line)
      .attr("fill", "none")
      .attr("stroke", p.colors[k % p.colors.length])
      .attr("stroke-opacity", 0.55)
      .attr("stroke-width", 1.3)
      .attr("stroke-linejoin", "round");
  });

  // std band
  const area = d3.area().x(d => x(d[0])).y0(d => y(d[1])).y1(d => y(d[2]));
  plot.append("path").datum(p.band)
    .attr("d", area)
    .attr("fill", meanColors[p.dim])
    .attr("fill-opacity", 0.11)
    .attr("stroke", "none");

  // mean rating
  plot.append("path").datum(p.mean)
    .attr("d", line)
    .attr("fill", "none")
    .attr("stroke", meanColors[p.dim])
    .attr("stroke-width", 3.6)
    .attr("stroke-linejoin", "round");

  // Lasso prediction
  plot.append("path").datum(p.pred)
    .attr("d", line)
    .attr("fill", "none")
    .attr("stroke", "#000")
    .attr("stroke-opacity", 0.8)
    .attr("stroke-width", 1.9)
    .attr("stroke-dasharray", "7,3");

  // axes
  const xAxis = d3.axisBottom(x).tickValues(xTicks).tickSize(4.5).tickPadding(4).tickFormat(d3.format("d"));
  const yAxis = d3.axisLeft(y).tickValues(yTicks).tickSize(4.5).tickPadding(4).tickFormat((d, j) => yTickLabels[j]);

  const gx = g.append("g").attr("transform", `translate(0,${B})`).call(xAxis);
  const gy = g.append("g").attr("transform", `translate(${L},0)`).call(yAxis);
  [gx, gy].forEach(ax => {
    ax.select(".domain").remove();
    ax.selectAll(".tick line").attr("stroke", "#000").attr("stroke-width", 1);
    ax.selectAll(".tick text").attr("fill", "#000").attr("font-size", 12.8)
      .attr("font-family", "DejaVu Sans");
  });

  // frame
  g.append("rect").attr("x", L).attr("y", T).attr("width", R - L).attr("height", B - T)
    .attr("fill", "none").attr("stroke", "#000").attr("stroke-width", 1);

  // title
  g.append("text").attr("x", (L + R) / 2).attr("y", T - 11.5)
    .attr("text-anchor", "middle").attr("font-size", 15.4).attr("fill", "#000")
    .text(titlePrefix + p.mod + " modality");

  // x label
  g.append("text").attr("x", (L + R) / 2).attr("y", B + 37)
    .attr("text-anchor", "middle").attr("font-size", 12.8).attr("fill", "#000")
    .text(xLabel);

  // y label
  const yc = (T + B) / 2, xl = L - 51;
  g.append("text").attr("transform", `translate(${xl},${yc}) rotate(-90)`)
    .attr("text-anchor", "middle").attr("dominant-baseline", "central")
    .attr("font-size", 12.8).attr("fill", "#000")
    .text(p.dim);
});
</script>
</body>
</html>
